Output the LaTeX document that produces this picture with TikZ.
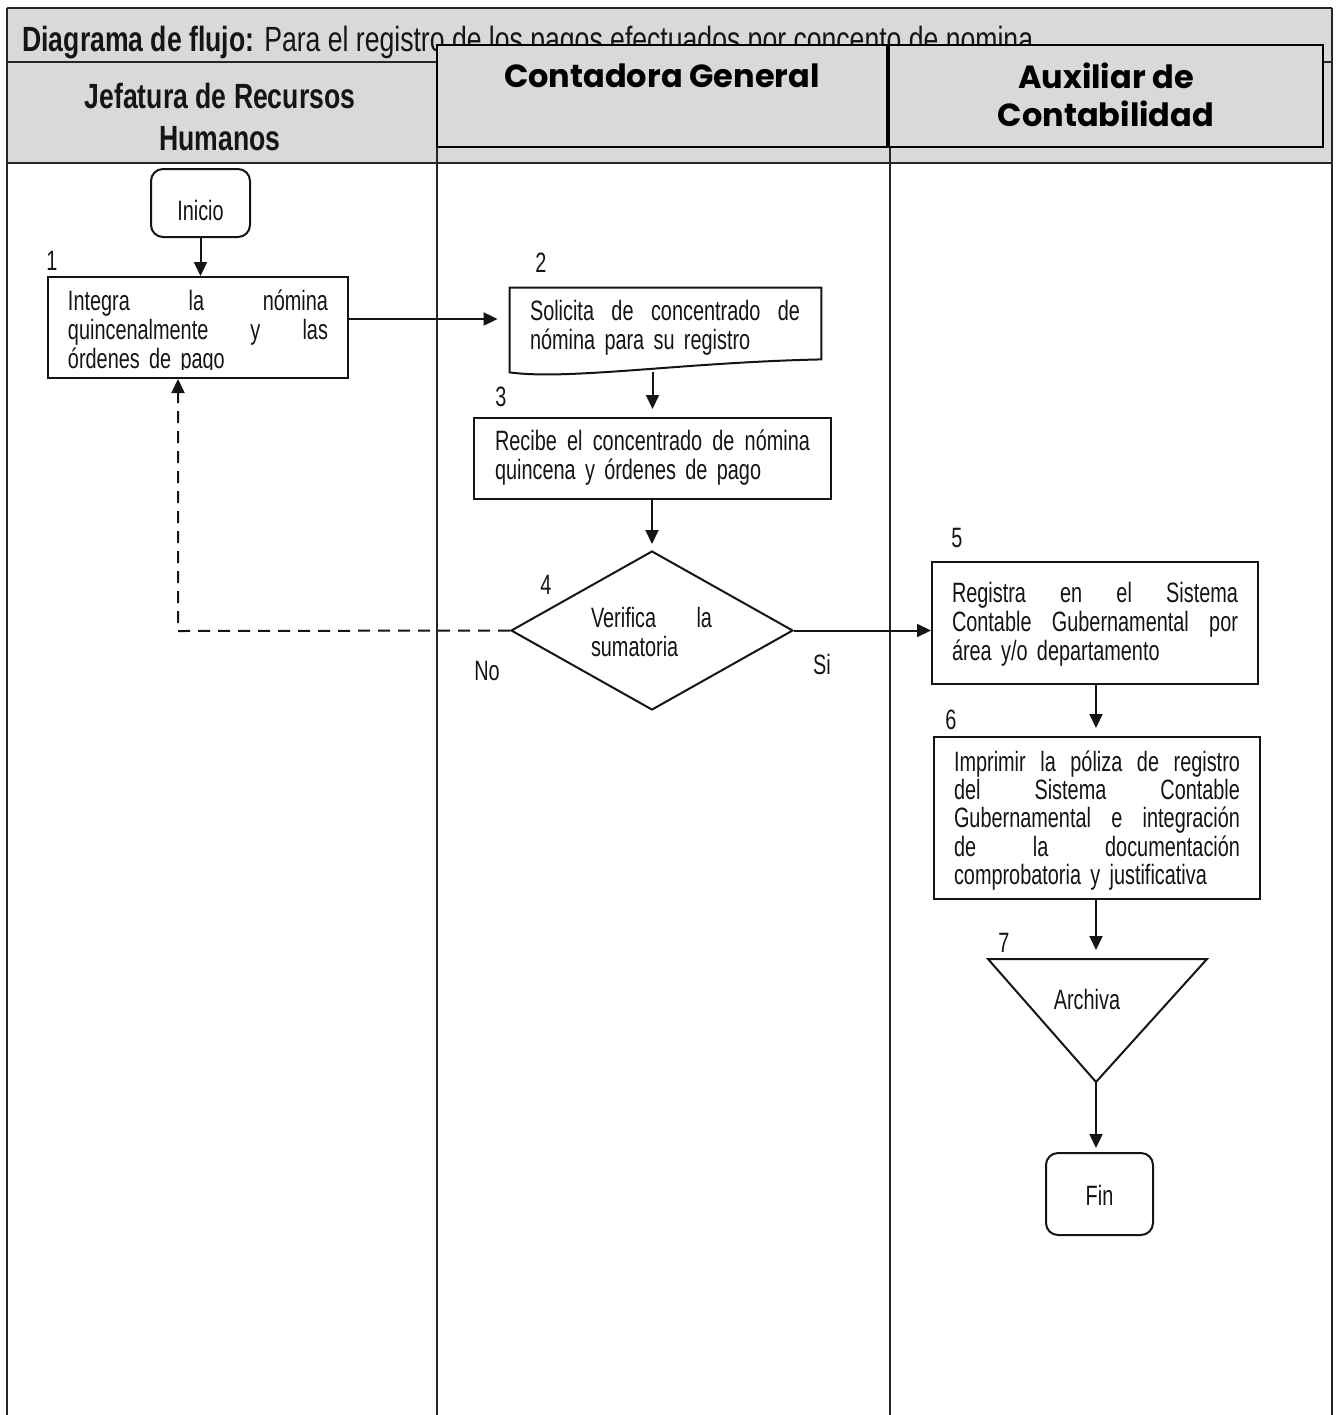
\documentclass[tikz,border=0pt]{standalone}
\usepackage{fontspec}
\setmainfont{Liberation Sans}[FakeStretch=0.76]
\newfontfamily\bodyfont{Liberation Sans}[FakeStretch=0.71]
\newfontfamily\hdfont{Poppins}
\usetikzlibrary{arrows.meta,shapes.geometric}
\definecolor{hdgray}{HTML}{D9D9D9}
\definecolor{ink}{HTML}{151515}
\newcommand{\jl}[1]{\leavevmode\hbox to \linewidth{#1}}
\tikzset{
  proc/.style={draw=ink, line width=1pt, fill=white, inner sep=0pt},
  term/.style={proc, rounded corners=6pt},
  txt/.style={inner sep=0pt, text=ink, font=\bodyfont\fontsize{14}{14.5}\selectfont, align=left},
  num/.style={inner sep=0pt, text=ink, font=\bodyfont\fontsize{14}{14}\selectfont},
  flow/.style={draw=ink, line width=1pt, -{Triangle[length=7pt,width=6.5pt]}},
  rule/.style={draw=black!85, line width=1pt},
  lanebox/.style={draw=black, line width=0.9pt, fill=hdgray, inner sep=0pt},
  lanehd/.style={inner sep=0pt, text=black, align=center,
    font=\hdfont\bfseries\fontsize{16}{19}\selectfont},
}
\begin{document}
\begin{tikzpicture}[x=0.5pt,y=-0.5pt]
\useasboundingbox (0,0) rectangle (1336,1415);

% table frame and header band
\fill[hdgray] (7,8) rectangle (1332,163);
\draw[rule] (7,8) -- (1332,8);
\draw[rule] (7,62) -- (1332,62);
\draw[rule] (7,163) -- (1332,163);
\draw[rule] (7,8) -- (7,1415);
\draw[rule] (1332,8) -- (1332,1415);
\draw[rule] (437,62) -- (437,1415);
\draw[rule] (890,62) -- (890,1415);

\node[anchor=base west, inner sep=0pt, text=ink, font=\fontsize{17.5}{19}\selectfont]
  (title) at (22,51) {\textbf{Diagrama de flujo:} Para el registro de los pagos efectuados por concento de nomina};
\node[inner sep=0pt, text=ink, align=center, font=\bfseries\fontsize{17.5}{21}\selectfont]
  (lane1) at (220,117) {Jefatura de Recursos\\Humanos};

% lane headers laid over the band
\node[lanebox, minimum width=225pt, minimum height=51pt] (lane2box) at (662,96) {};
\node[lanehd] (lane2) at (662,76) {Contadora General};
\node[lanebox, minimum width=217pt, minimum height=51pt] (lane3box) at (1106,96) {};
\node[lanehd] (lane3) at (1106,94.5) {Auxiliar de\\Contabilidad};

% step 0: start
\node[term, minimum width=49.5pt, minimum height=34pt] (ini) at (200.5,203) {};
\node[txt] (tini) at (200.5,210) {Inicio};

% step 1
\node[num] (n1) at (52,261) {1};
\node[proc, minimum width=150pt, minimum height=50.5pt] (b1) at (198,327.5) {};
\begin{scope}
  \clip (50,279) rectangle (346,369);
  \node[txt, text width=130pt] (t1) at (198,332) {\jl{Integra\hfill la\hfill nómina}\\
    \jl{quincenalmente\hfill y\hfill las}\\ órdenes de pago};
\end{scope}

% step 2: document
\node[num] (n2) at (541,263) {2};
\node[inner sep=0pt, minimum width=155.5pt, minimum height=42pt] (b2) at (665.5,330) {};
\draw[ink, line width=1pt, fill=white] (b2.north west) -- (b2.north east)
  -- ([yshift=6.5pt]b2.south east)
  .. controls ([xshift=-70pt,yshift=5pt]b2.south east) and ([xshift=30pt,yshift=-4pt]b2.south west) .. (b2.south west)
  -- cycle;
\node[txt, text width=135pt] (t2) at (665,327.5) {\jl{Solicita\hfill de\hfill concentrado\hfill de}\\
  nómina para su registro};

% step 3
\node[num] (n3) at (501,397) {3};
\node[proc, minimum width=178.5pt, minimum height=40.5pt] (b3) at (652.5,458.5) {};
\node[txt, text width=157.5pt] (t3) at (652.5,457.5) {\jl{Recibe\hfill el\hfill concentrado\hfill de\hfill nómina}\\
  quincena y órdenes de pago};

% step 4: decision
\node[num] (n4) at (546,585) {4};
\node[draw=ink, line width=1pt, fill=white, diamond, inner sep=0pt,
  minimum width=141pt, minimum height=79.5pt] (d4) at (652,630.5) {};
\node[txt, text width=60.5pt] (t4) at (651.5,631.5) {\jl{Verifica\hfill la}\\ sumatoria};
\node[num] (no) at (487,671) {No};
\node[num] (si) at (822,664) {Si};

% step 5
\node[num] (n5) at (957,538) {5};
\node[proc, minimum width=163pt, minimum height=61pt] (b5) at (1095,623) {};
\node[txt, text width=143pt] (t5) at (1095,624) {\jl{Registra\hfill en\hfill el\hfill Sistema}\\
  \jl{Contable\hfill Gubernamental\hfill por}\\ área y/o departamento};

% step 6
\node[num] (n6) at (951,720) {6};
\node[proc, minimum width=163pt, minimum height=81pt] (b6) at (1097,818) {};
\node[txt, text width=143pt, font=\bodyfont\fontsize{14}{14.1}\selectfont] (t6) at (1097,820.5) {\jl{Imprimir\hfill la\hfill póliza\hfill de\hfill registro}\\
  \jl{del\hfill Sistema\hfill Contable}\\
  \jl{Gubernamental\hfill e\hfill integración}\\
  \jl{de\hfill la\hfill documentación}\\
  comprobatoria y justificativa};

% step 7: archive
\node[num] (n7) at (1004,943) {7};
\coordinate (t7l) at (988,959);
\coordinate (t7r) at (1207,959);
\coordinate (t7b) at (1096,1082);
\coordinate (t7t) at (1096,959);
\draw[ink, line width=1pt, fill=white] (t7l) -- (t7r) -- (t7b) -- cycle;
\node[txt] (t7) at (1087,999) {Archiva};

% end
\node[term, minimum width=53.5pt, minimum height=41pt] (fin) at (1099.5,1194) {};
\node[txt] (tfin) at (1099.5,1195) {Fin};
\coordinate (finin) at (1096,1153);

% connectors
\draw[flow] (ini.south) -- (ini.south |- b1.north);
\draw[flow, shorten >=6pt] ([yshift=5.5pt]b2.west -| b1.east) -- ([yshift=5.5pt]b2.west);
\draw[flow, shorten >=4pt] (b3.north |- b2.south) -- (b3.north);
\draw[flow, shorten >=3pt] (b3.south -| d4.north) -- (d4.north);
\coordinate (ret) at (178,631);
\draw[flow, dash pattern=on 6pt off 4pt] (d4.west) -- (ret) -- (ret |- b1.south);
\draw[flow] (d4.east) -- (d4.east -| b5.west);
\draw[flow, shorten >=4pt] (b5.south -| t7t) -- (b6.north -| t7t);
\draw[flow, shorten >=4.5pt] (b6.south -| t7t) -- (t7t);
\draw[flow, shorten >=2.5pt] (t7b) -- (finin);
\end{tikzpicture}
\end{document}
